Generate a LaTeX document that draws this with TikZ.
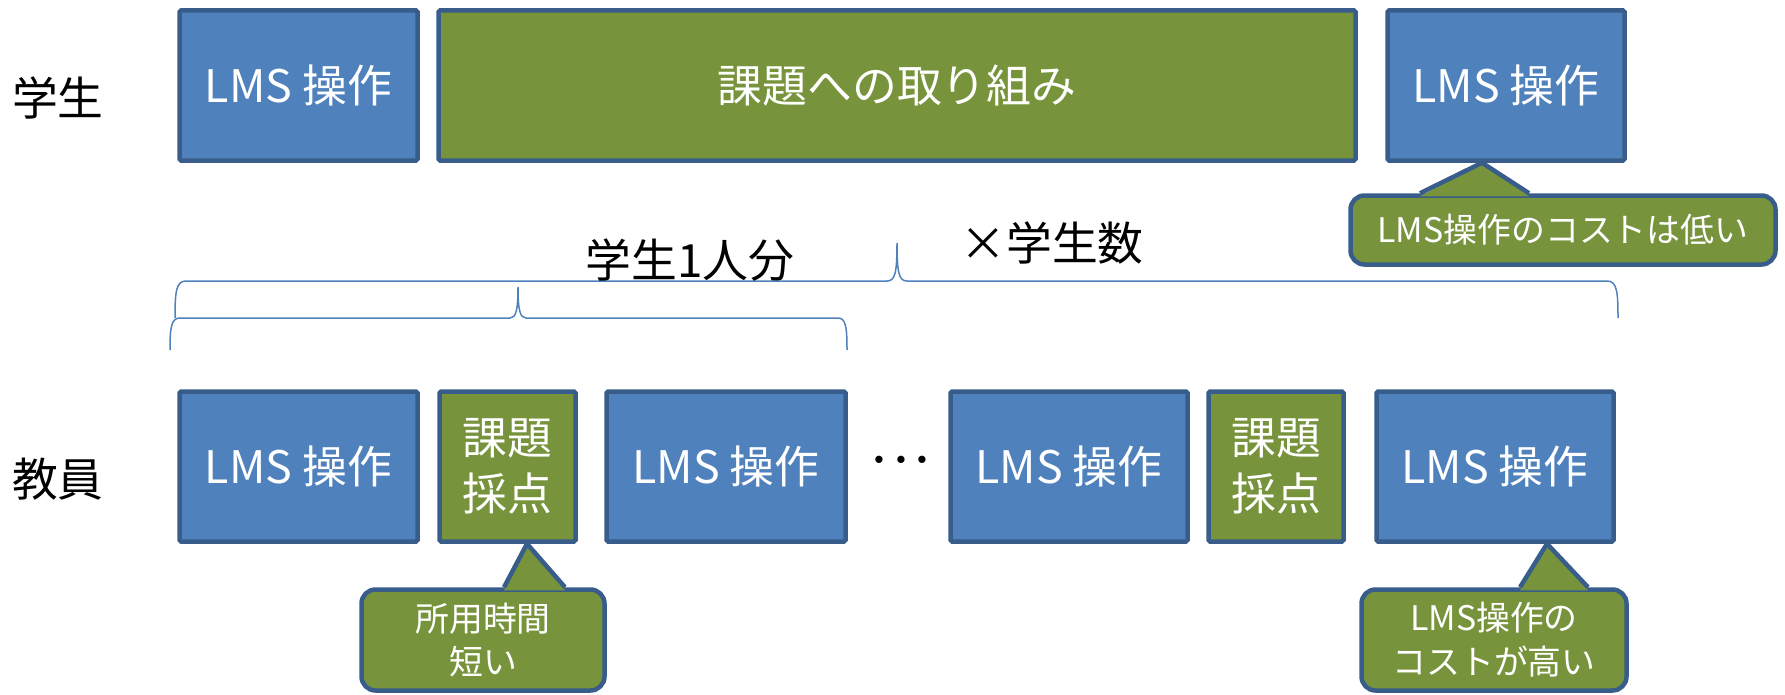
\documentclass[tikz,border=0pt]{standalone}
\usepackage{fontspec}
\setmainfont{Noto Sans CJK JP}
\usetikzlibrary{calc}
\definecolor{boxblue}{HTML}{4F81BD}
\definecolor{edgeblue}{HTML}{385D8A}
\definecolor{olivefill}{HTML}{77933C}
\begin{document}
\begin{tikzpicture}[x=1bp,y=-1bp,
  box/.style={draw=edgeblue, line width=4.5bp, rounded corners=1.5bp, text=white,
    font=\fontsize{45}{56}\selectfont, align=center, inner sep=0pt, minimum height=150bp},
  bluebox/.style={box, fill=boxblue},
  greenbox/.style={box, fill=olivefill},
  callout/.style={draw=edgeblue, line width=4.5bp, fill=olivefill, rounded corners=14bp,
    text=white, font=\fontsize{34}{44}\selectfont, align=center, inner sep=0pt},
  tipfill/.style={fill=olivefill},
  tipline/.style={draw=edgeblue, line width=4.5bp, line join=miter},
  brace/.style={draw=boxblue, line width=1.5bp},
  lbl/.style={font=\fontsize{46}{56}\selectfont, text=black}
]
\useasboundingbox (0,0) rectangle (1785,695);

% row labels
\node[lbl] (stu) at (58,98) {学生};
\node[lbl] (fac) at (58,479) {教員};

% student row
\node[bluebox, minimum width=238bp] (S1) at (298.5,85.5) {LMS 操作};
\node[greenbox, minimum width=917bp] (S2) at (897,85.5) {課題への取り組み};
\node[bluebox, minimum width=237bp] (S3) at (1506,85.5) {LMS 操作};

% faculty row
\node[bluebox, minimum width=238bp] (T1) at (298.5,466.5) {LMS 操作};
\node[greenbox, minimum width=136bp] (T2) at (507.5,466.5) {課題\\採点};
\node[bluebox, minimum width=239bp] (T3) at (726,466.5) {LMS 操作};
\node[font=\fontsize{44}{44}\selectfont] (dots) at (901,466.5) {･･･};
\node[bluebox, minimum width=237bp] (T4) at (1069,466.5) {LMS 操作};
\node[greenbox, minimum width=135bp] (T5) at (1276,466.5) {課題\\採点};
\node[bluebox, minimum width=237bp] (T6) at (1495,466.5) {LMS 操作};

% braces
\draw[brace] (175,318) .. controls (175,292) and (176,281) .. (186,281) -- (887,281)
  .. controls (895,281) and (897,273) .. (897,243)
  .. controls (897,273) and (899,281) .. (907,281) -- (1607,281)
  .. controls (1617,281) and (1618,292) .. (1618,318);
\draw[brace] (170,350) .. controls (170,328) and (171,318) .. (180,318) -- (510,318)
  .. controls (516,318) and (518,310) .. (518,287)
  .. controls (518,310) and (520,318) .. (526,318) -- (838,318)
  .. controls (846,318) and (847,328) .. (847,350);
\node[lbl] (one) at (690,260) {学生1人分};
\node[lbl] (times) at (1052,243) {×学生数};

% callout 1
\node[callout, minimum width=425bp, minimum height=69bp] (c1) at (1563,230) {LMS操作のコストは低い};
\coordinate (c1tip) at ($(S3.south)+(-24,0)$);
\fill[tipfill] ($(c1.north)+(-143,3)$) -- (c1tip) -- ($(c1.north)+(-34,3)$) -- cycle;
\draw[tipline] ($(c1.north)+(-143,0)$) -- (c1tip) -- ($(c1.north)+(-34,0)$);

% callout 2
\node[callout, minimum width=243bp, minimum height=101bp] (c2) at (483,640) {所用時間\\短い};
\coordinate (c2tip) at ($(T2.south)+(19.5,0)$);
\fill[tipfill] ($(c2.north)+(21,3)$) -- (c2tip) -- ($(c2.north)+(82,3)$) -- cycle;
\draw[tipline] ($(c2.north)+(21,0)$) -- (c2tip) -- ($(c2.north)+(82,0)$);

% callout 3
\node[callout, minimum width=265bp, minimum height=101bp] (c3) at (1494,640) {LMS操作の\\コストが高い};
\coordinate (c3tip) at ($(T6.south)+(52,0)$);
\fill[tipfill] ($(c3.north)+(26,3)$) -- (c3tip) -- ($(c3.north)+(94,3)$) -- cycle;
\draw[tipline] ($(c3.north)+(26,0)$) -- (c3tip) -- ($(c3.north)+(94,0)$);
\end{tikzpicture}
\end{document}
